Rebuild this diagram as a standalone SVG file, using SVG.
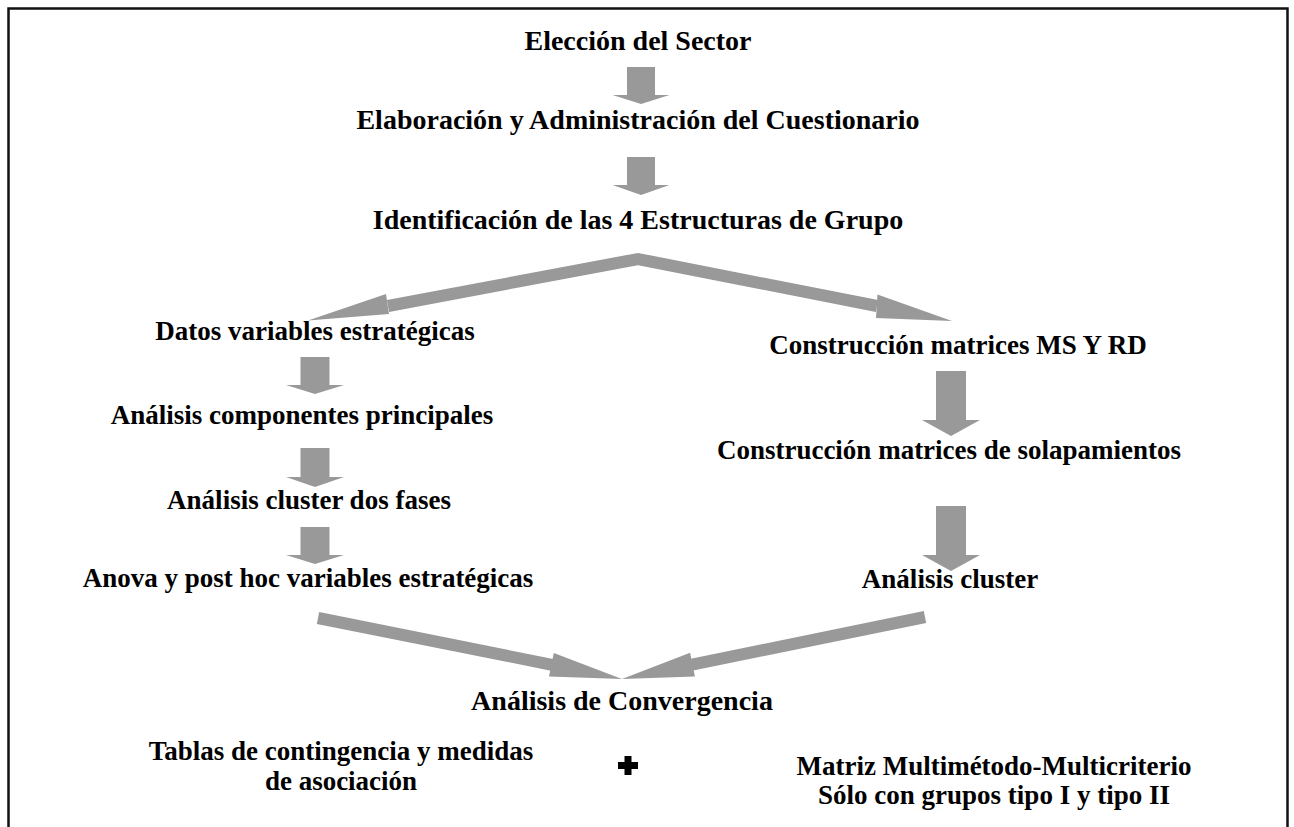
<svg xmlns="http://www.w3.org/2000/svg" width="1294" height="827" viewBox="0 0 1294 827">
<style>
.t{font-family:"Liberation Serif","Times New Roman",serif;font-weight:bold;font-size:27px;fill:#000;text-anchor:middle}
.b{font-size:28px}
.a{fill:#999999}
.sh{fill:none;stroke:#999999;stroke-width:12;stroke-linejoin:miter;stroke-miterlimit:20}
</style>
<rect width="1294" height="827" fill="#fff"/>
<path d="M8.5,827 V8.5 H1287.5 V827" fill="none" stroke="#111" stroke-width="2.5"/>
<g id="connectors">
<polygon class="a" points="627,67 655,67 655,95 669.5,95 641,104 612.5,95 627,95"/>
<polygon class="a" points="627,157 655,157 655,185 669.5,185 641,195 612.5,185 627,185"/>
<polyline class="sh" points="388,306 638,259 877,306"/>
<polygon class="a" points="308,320.5 389,314 386,294"/>
<polygon class="a" points="952,321 876,318 877.5,294.5"/>
<polygon class="a" points="300.5,357 329.5,357 329.5,385 344,385 315,394 286,385 300.5,385"/>
<polygon class="a" points="300.5,448 329.5,448 329.5,477 344,477 315,487 286,477 300.5,477"/>
<polygon class="a" points="300.5,527 329.5,527 329.5,555 344,555 315,564 286,555 300.5,555"/>
<polygon class="a" points="936,371 966,371 966,420 980,420 951,436 922,420 936,420"/>
<polygon class="a" points="936,506 966,506 966,555 980,555 951,571 922,555 936,555"/>
<line x1="318" y1="618" x2="552" y2="664.8" stroke="#999999" stroke-width="12"/>
<polygon class="a" points="622,679 549,676.6 553.8,653"/>
<line x1="925" y1="617" x2="692" y2="664.6" stroke="#999999" stroke-width="12"/>
<polygon class="a" points="622,679 694.9,676.4 690.1,652.8"/>
</g>
<g id="n1"><text class="t b" x="638" y="50">Elección del Sector</text></g>
<g id="n2"><text class="t b" x="638" y="129">Elaboración y Administración del Cuestionario</text></g>
<g id="n3"><text class="t b" x="638" y="229">Identificación de las 4 Estructuras de Grupo</text></g>
<g id="n4"><text class="t" x="315" y="340">Datos variables estratégicas</text></g>
<g id="n5"><text class="t" x="958" y="354">Construcción matrices MS Y RD</text></g>
<g id="n6"><text class="t" x="302" y="424">Análisis componentes principales</text></g>
<g id="n7"><text class="t" x="949" y="459">Construcción matrices de solapamientos</text></g>
<g id="n8"><text class="t" x="309" y="509">Análisis cluster dos fases</text></g>
<g id="n9"><text class="t" x="308" y="587">Anova y post hoc variables estratégicas</text></g>
<g id="n10"><text class="t" x="950" y="588">Análisis cluster</text></g>
<g id="n11"><text class="t b" x="622" y="710">Análisis de Convergencia</text></g>
<g id="n12"><text class="t" x="341" y="760">Tablas de contingencia y medidas</text><text class="t" x="341" y="790">de asociación</text></g>
<g id="plus"><polygon fill="#000" points="624.5,756 631.5,756 631.5,762 638,762 638,769 631.5,769 631.5,775 624.5,775 624.5,769 618,769 618,762 624.5,762"/></g>
<g id="n13"><text class="t" x="994" y="775">Matriz Multimétodo-Multicriterio</text><text class="t" x="994" y="804">Sólo con grupos tipo I y tipo II</text></g>
</svg>
